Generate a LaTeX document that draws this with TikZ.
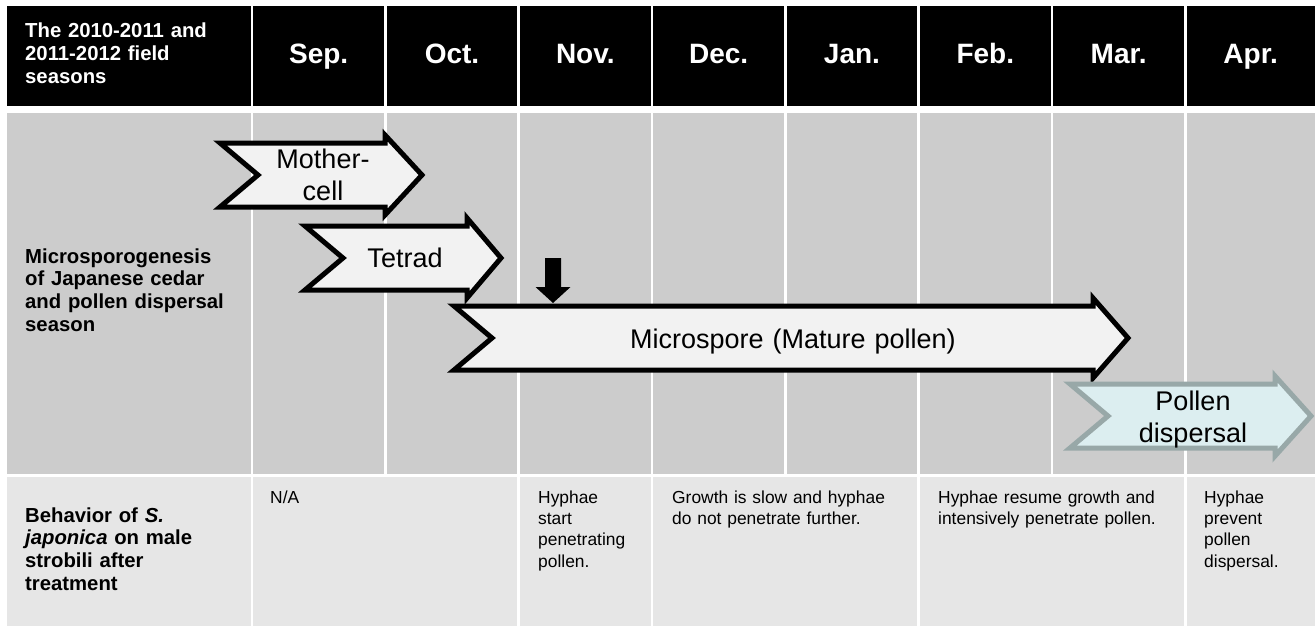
\documentclass[tikz,border=0pt]{standalone}
\usepackage{fontspec}
\setmainfont{Liberation Sans}
\usetikzlibrary{positioning}
\usepackage{xcolor}
\definecolor{rowgray}{HTML}{CCCCCC}
\definecolor{cellgray}{HTML}{E6E6E6}
\definecolor{stagefill}{HTML}{F2F2F2}
\definecolor{pollenfill}{HTML}{DCEEF0}
\definecolor{pollenedge}{HTML}{98A8A8}

% chevron outline: left x, head start x, tip x, centre y
\newcommand{\chevronpath}[4]{(#1,#4-32) -- (#2,#4-32) -- (#2,#4-40) -- (#3,#4) -- (#2,#4+40) -- (#2,#4+32) -- (#1,#4+32) -- (#1+38,#4) -- cycle}

\begin{document}
\begin{tikzpicture}[x=1pt, y=-1pt,
    month/.style={anchor=base, inner sep=0pt, text=white, font=\fontsize{28}{32}\selectfont\bfseries},
    rowlabel/.style={anchor=base west, inner sep=0pt, text width=224pt, align=left, font=\fontsize{20.3}{22.7}\selectfont\bfseries},
    cell/.style={anchor=base west, inner sep=0pt, text width=255pt, align=left, font=\fontsize{17.4}{21.4}\selectfont},
    stage/.style={anchor=base, inner sep=0pt, text width=420pt, align=center, font=\fontsize{27}{32.5}\selectfont},
    chevron/.style={draw=black, fill=stagefill, line width=5pt},
    sep line/.style={white, line width=2.5pt}
]
    \useasboundingbox (0,0) rectangle (1315,626);
    \fill[white] (0,0) rectangle (1315,626);

    % Table rows
    \fill[black] (7,6) rectangle (1315,106);
    \fill[rowgray] (7,113) rectangle (1315,474);
    \fill[cellgray] (7,476.5) rectangle (1315,626);

    % Column lines
    \draw[sep line] (252,0) -- (252,626);
    \draw[sep line] (385.3,0) -- (385.3,474);
    \draw[sep line] (518.7,0) -- (518.7,626);
    \draw[sep line] (652,0) -- (652,626);
    \draw[sep line] (785.3,0) -- (785.3,474);
    \draw[sep line] (918.7,0) -- (918.7,626);
    \draw[sep line] (1052,0) -- (1052,474);
    \draw[sep line] (1185.3,0) -- (1185.3,626);

    % Header
    \node[rowlabel, text=white] (seasons) at (25,38) {The 2010-2011 and\\2011-2012 field\\seasons};
    \node[month] (sep) at (318.7,64) {Sep.};
    \node[month] (oct) at (452,64) {Oct.};
    \node[month] (nov) at (585.3,64) {Nov.};
    \node[month] (dec) at (718.7,64) {Dec.};
    \node[month] (jan) at (852,64) {Jan.};
    \node[month] (feb) at (985.3,64) {Feb.};
    \node[month] (mar) at (1118.7,64) {Mar.};
    \node[month] (apr) at (1250.7,64) {Apr.};

    % Microsporogenesis row
    \node[rowlabel] (micro) at (25,263) {Microsporogenesis\\of Japanese cedar\\and pollen dispersal\\season};

    \draw[chevron] \chevronpath{220}{385}{422}{175};
    \node[stage] (mother) at (323,168) {Mother-\\cell};
    \draw[chevron] \chevronpath{305}{467}{501}{258};
    \node[stage] (tetrad) at (405,267) {Tetrad};
    \draw[chevron] \chevronpath{454}{1093}{1128}{338};
    \node[stage] (microspore) at (793,348) {Microspore (Mature pollen)};
    \draw[chevron, draw=pollenedge, fill=pollenfill] \chevronpath{1070}{1275}{1311}{416};
    \node[stage] (pollen) at (1193,410) {Pollen\\dispersal};

    % Treatment mark
    \fill[black] (545,258) -- (561,258) -- (561,287) -- (570.5,287) -- (553,303) -- (535.5,287) -- (545,287) -- cycle;

    % Behaviour row
    \node[rowlabel] (behavior) at (25,522) {Behavior of \textit{S.}\\\textit{japonica} on male\\strobili after\\treatment};
    \node[cell] (na) at (270,503) {N/A};
    \node[cell] (start) at (538,503) {Hyphae\\start\\penetrating\\pollen.};
    \node[cell] (slow) at (672,503) {Growth is slow and hyphae\\do not penetrate further.};
    \node[cell] (resume) at (938,503) {Hyphae resume growth and\\intensively penetrate pollen.};
    \node[cell] (prevent) at (1204,503) {Hyphae\\prevent\\pollen\\dispersal.};
\end{tikzpicture}
\end{document}
